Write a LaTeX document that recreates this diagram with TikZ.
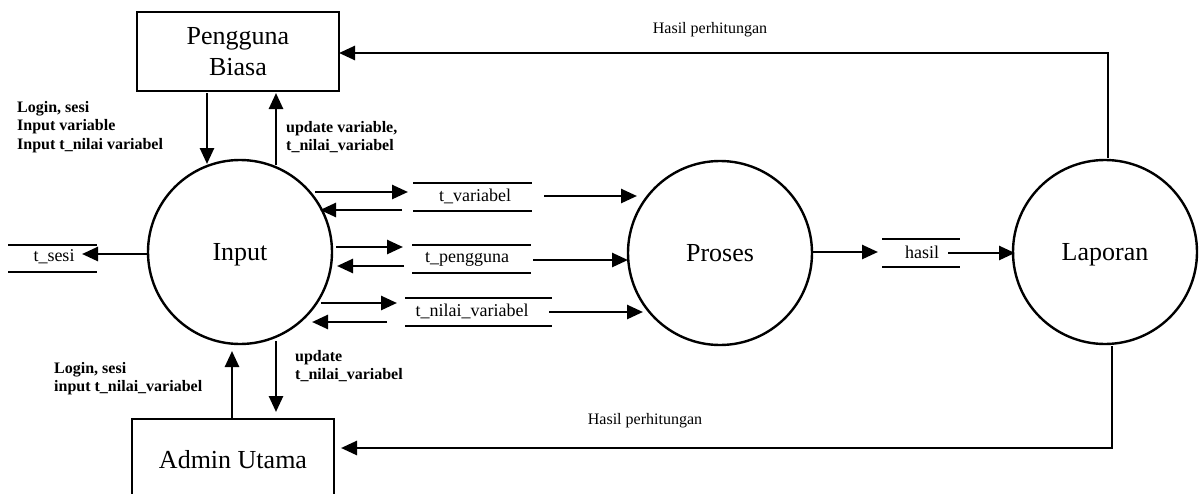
\documentclass[tikz,border=0pt]{standalone}
\usepackage{fontspec}
\setmainfont{Liberation Serif}
\usetikzlibrary{arrows.meta}
\begin{document}
\begin{tikzpicture}[x=1pt,y=-1pt,
  arr/.style={line width=2.6pt,-{Triangle[length=16pt,width=14pt]}},
  proc/.style={circle,draw,line width=2.4pt,minimum size=184pt,inner sep=0pt,text depth=0pt,font=\fontsize{26}{30}\selectfont},
  ent/.style={draw,line width=2.4pt,inner sep=0pt,font=\fontsize{26}{31}\selectfont,align=center},
  store/.style={inner sep=0pt,anchor=base,font=\fontsize{18}{20}\selectfont},
  sline/.style={line width=1.4pt},
  lbl/.style={font=\bfseries\fontsize{16}{18.5}\selectfont,align=left,anchor=north west,inner sep=0pt},
  res/.style={font=\fontsize{16}{18}\selectfont,inner sep=0pt,anchor=base}]
\useasboundingbox (0,0) rectangle (1200,493);
\clip (0,0) rectangle (1200,493);

% external entities
\node[ent,minimum width=202pt,minimum height=79pt] (pb) at (238,51.5) {Pengguna\\Biasa};
\node[ent,minimum width=202pt,minimum height=82pt] (adm) at (233,460) {Admin Utama};

% processes
\node[proc] (inp) at (240,252) {Input};
\node[proc] (pro) at (720,253) {Proses};
\node[proc] (lap) at (1105,252) {Laporan};

% data stores
\node[store] (ss) at (54,261) {t\_sesi};
\draw[sline] (8,245) -- (97,245) (8,272) -- (97,272);
\node[store] (sv) at (475,201) {t\_variabel};
\draw[sline] (413,183) -- (532,183) (413,211) -- (532,211);
\node[store] (sp) at (467,262) {t\_pengguna};
\draw[sline] (412,245) -- (531,245) (412,273) -- (531,273);
\node[store] (sn) at (472,316) {t\_nilai\_variabel};
\draw[sline] (405,298) -- (552,298) (405,326) -- (552,326);
\node[store] (sh) at (922,258) {hasil};
\draw[sline] (882,239) -- (960,239) (882,267) -- (960,267);

% flows: Pengguna Biasa <-> Input
\draw[arr] (207,93) -- (207,164);
\draw[arr] (276,165) -- (276,93);
% Input -> t_sesi
\draw[arr] (148,254) -- (82,254);
% Input <-> stores
\draw[arr] (315,192) -- (408,192);
\draw[arr] (402,210) -- (320,210);
\draw[arr] (336,247) -- (403,247);
\draw[arr] (404,266) -- (337,266);
\draw[arr] (321,303) -- (397,303);
\draw[arr] (387,322) -- (312,322);
% stores -> Proses
\draw[arr] (544,196) -- (637,196);
\draw[arr] (533,260) -- (628,260);
\draw[arr] (549,312) -- (643,312);
% Proses -> hasil -> Laporan
\draw[arr] (811,252) -- (878,252);
\draw[arr] (948,253) -- (1015,253);
% Laporan -> entities
\draw[arr] (1108,158) -- (1108,53) -- (339,53);
\draw[arr] (1112,346) -- (1112,448) -- (341,448);
% Admin Utama <-> Input
\draw[arr] (232,419) -- (232,351);
\draw[arr] (276,341) -- (276,412);

% labels
\node[lbl] at (17,101) {Login, sesi\\Input variable\\Input t\_nilai variabel};
\node[lbl] at (286,121) {update variable,\\t\_nilai\_variabel};
\node[lbl] at (54,362) {Login, sesi\\input t\_nilai\_variabel};
\node[lbl] at (295,350) {update\\t\_nilai\_variabel};
\node[res] at (710,33) {Hasil perhitungan};
\node[res] at (645,424) {Hasil perhitungan};
\end{tikzpicture}
\end{document}
